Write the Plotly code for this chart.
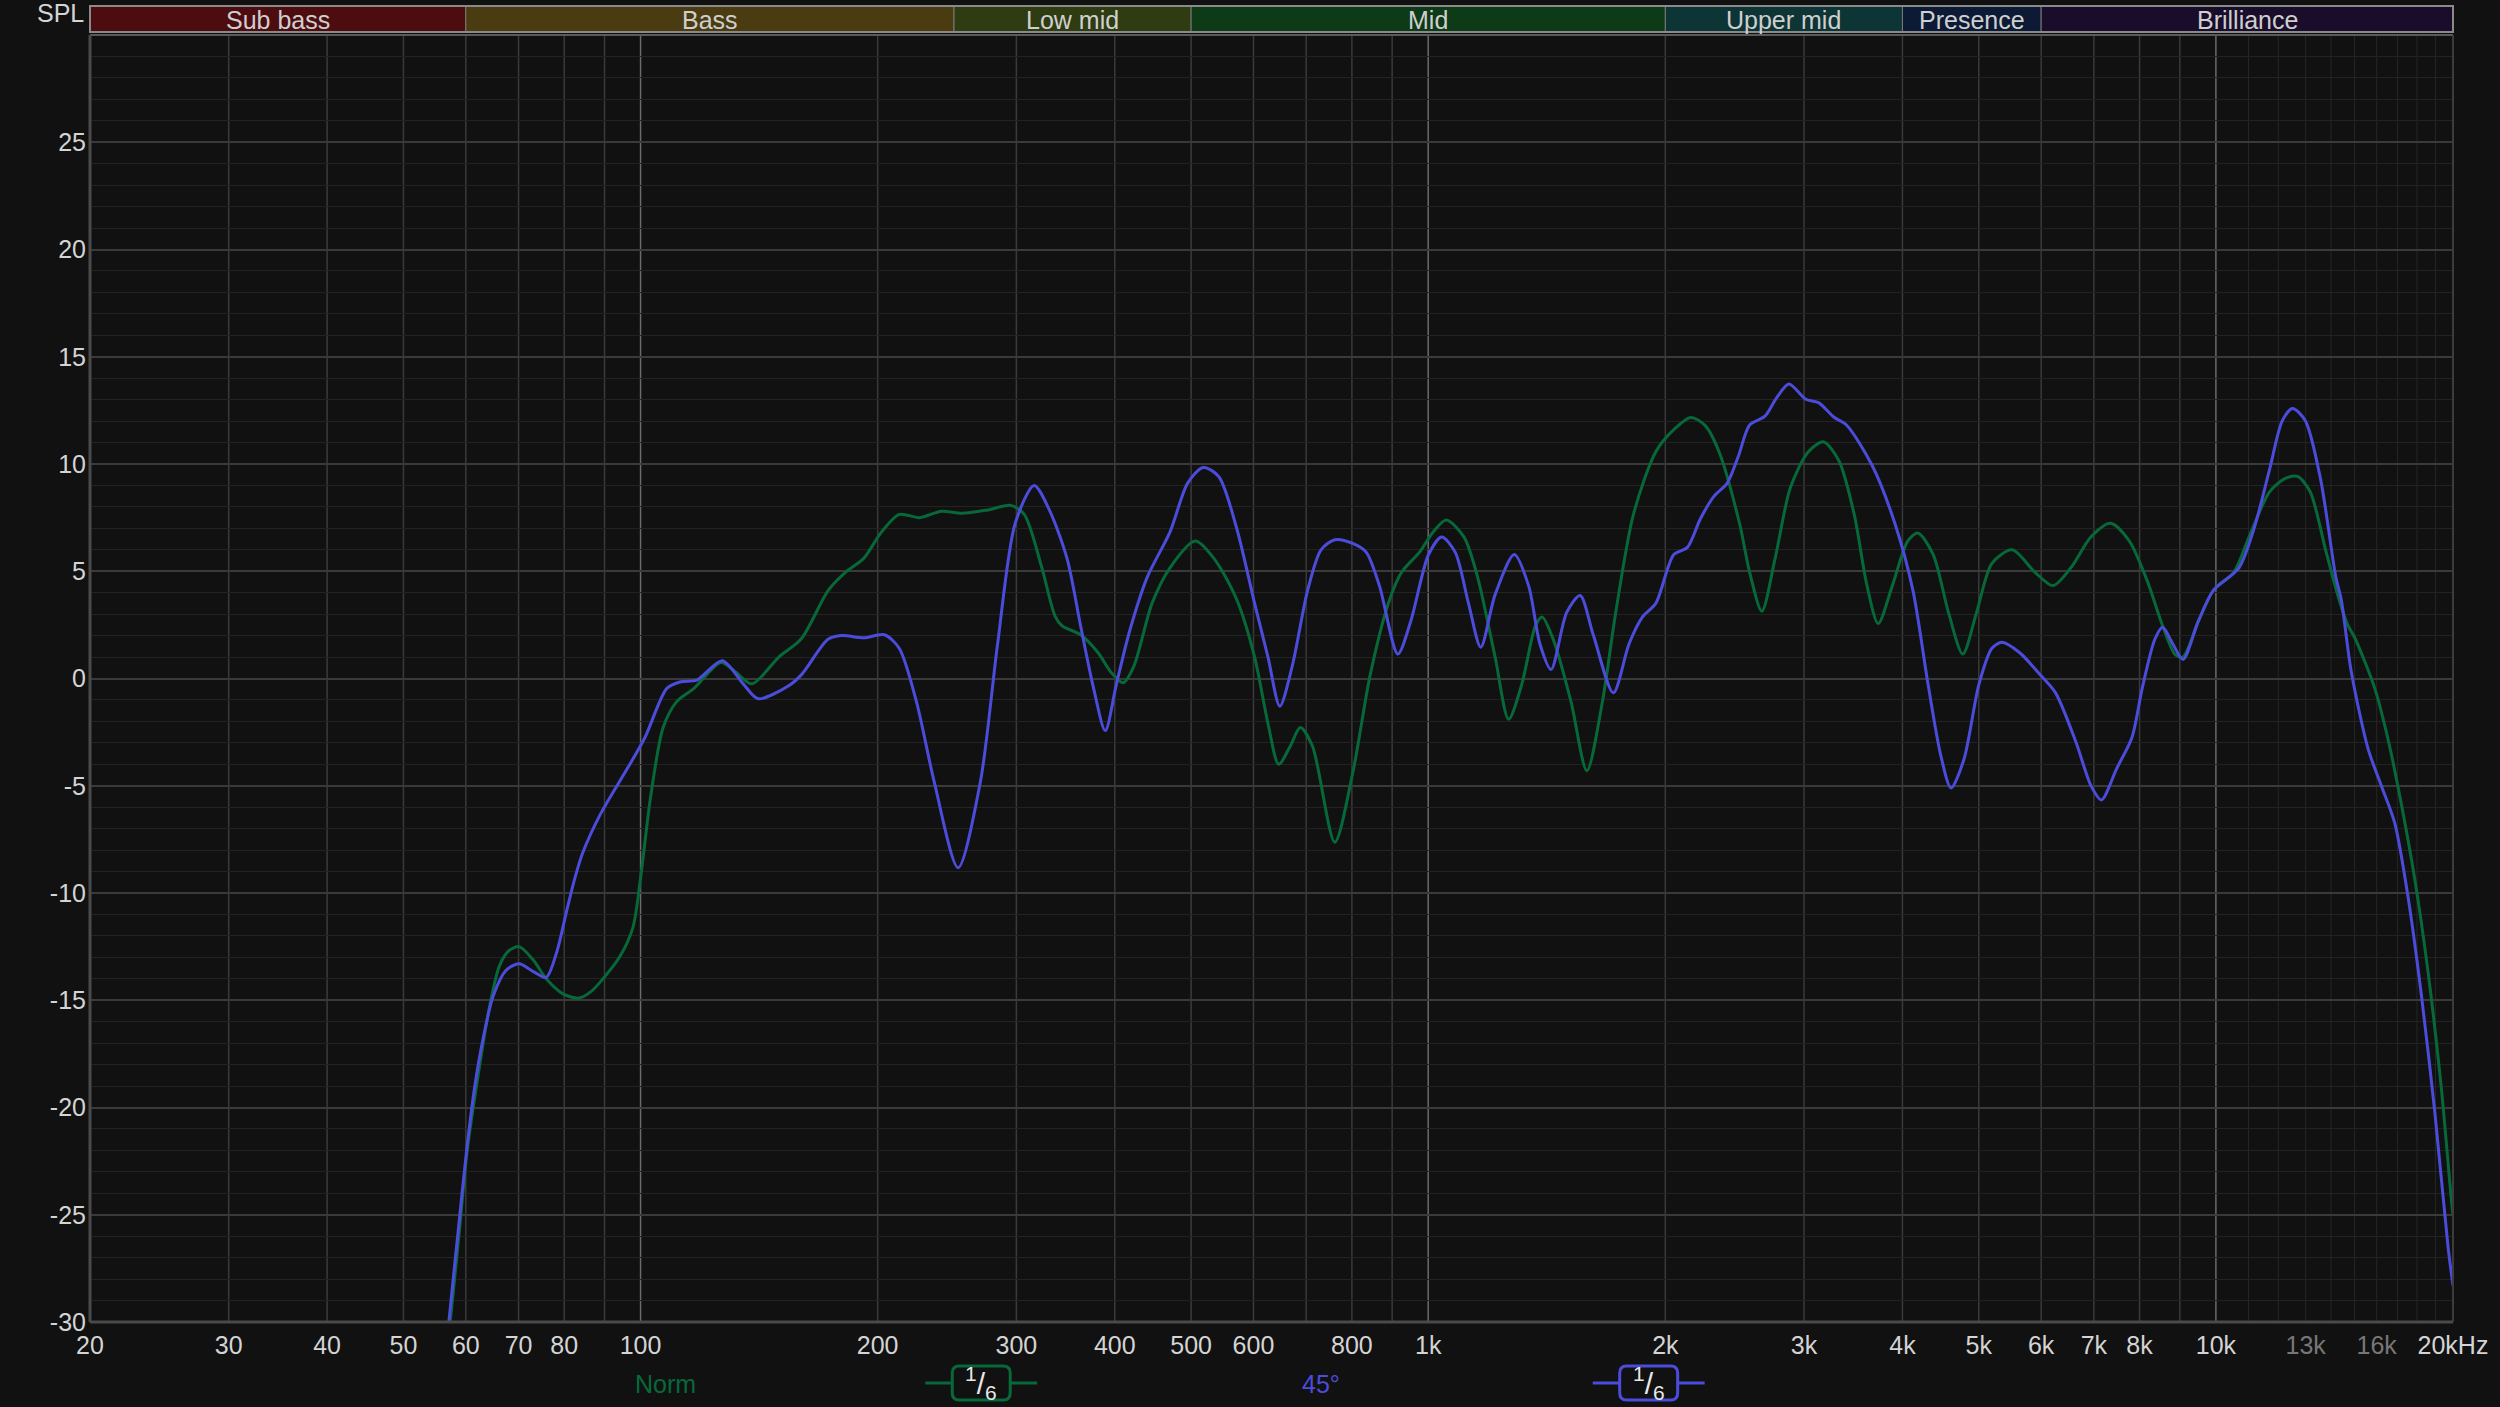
import numpy as np
import plotly.graph_objects as go

norm_freq = [56.8, 57.3, 58.9, 60.2, 61.9, 64.3, 66.2, 68.0, 70.1, 73.0, 75.9, 79.7, 83.5, 86.5, 89.6,
             94.0, 97.8, 100.0, 103, 106.8, 111, 117, 126.5, 132, 138.5, 149.8, 160, 173, 182, 192,
             202, 213, 226, 241, 256, 276, 295, 307, 323, 336, 343, 362, 381, 396, 410, 423, 446,
             470, 506, 535, 571, 602, 626, 646, 668, 688, 713, 761, 802, 844, 890, 925, 975, 1014,
             1054, 1110, 1155, 1216, 1265, 1315, 1368, 1395, 1441, 1518, 1590, 1664, 1730, 1822,
             1945, 2050, 2154, 2246, 2340, 2484, 2559, 2652, 2756, 2883, 3038, 3177, 3322, 3474,
             3606, 3726, 3884, 4062, 4184, 4376, 4576, 4772, 4968, 5196, 5512, 5894, 6211, 6543,
             6947, 7350, 7766, 8184, 8559, 8883, 9084, 9498, 9932, 10540, 11022, 11698, 12232,
             12696, 13176, 13780, 14340, 14700, 15008, 15911, 16544, 17202, 17884, 18594, 19330,
             19904, 20000]
norm_db = [-31.0, -30.0, -25.7, -22.1, -19.0, -15.3, -13.4, -12.7, -12.5, -13.1, -14.0, -14.7, -14.9,
           -14.6, -14.0, -13.0, -11.6, -9.3, -5.5, -2.3, -1.1, -0.45, 0.75, 0.3, -0.25, 1.0, 1.85, 4.1,
           4.95, 5.6, 6.8, 7.65, 7.5, 7.8, 7.7, 7.86, 8.07, 7.65, 5.2, 2.9, 2.45, 2.04, 1.2, 0.27,
           -0.2, 0.58, 3.5, 5.16, 6.41, 5.58, 3.7, 1.0, -2.1, -4.0, -3.16, -2.29, -3.16, -7.63, -4.4,
           0.17, 3.5, 4.95, 5.89, 6.82, 7.39, 6.6, 4.74, 1.0, -1.9, -0.25, 2.45, 2.87, 1.83, -1.08,
           -4.3, -1.08, 3.08, 7.65, 10.57, 11.6, 12.17, 11.8, 10.57, 7.24, 4.95, 3.14, 5.58, 8.9,
           10.57, 11.03, 10.15, 7.65, 4.33, 2.56, 4.33, 6.41, 6.78, 5.78, 3.08, 1.14, 3.08, 5.37,
           6.0, 4.95, 4.33, 5.16, 6.62, 7.24, 6.41, 4.54, 2.45, 1.1, 1.0, 2.66, 4.12, 4.95, 6.62,
           8.7, 9.32, 9.42, 8.7, 6.0, 3.66, 2.5, 1.9, -0.46, -2.85, -5.88, -9.35, -13.69, -19.1,
           -24.3, -25.0]

deg45_freq = [56.8, 57.1, 58.7, 60.1, 61.6, 63.1, 65.0, 67.5, 70.1, 73.0, 75.9, 78.2, 80.5, 82.4,
              84.4, 89, 96.2, 101.3, 108, 112.5, 117.8, 127, 135, 141, 154, 160, 173, 180, 192,
              204, 213, 224, 236, 253, 270, 284, 299, 316, 330, 348, 362, 376, 389, 402, 418, 440,
              470, 495, 518, 542, 571, 602, 626, 648, 672, 703, 731, 761, 802, 834, 867, 915, 950,
              1001, 1040, 1082, 1125, 1166, 1216, 1286, 1341, 1386, 1432, 1499, 1559, 1620, 1718,
              1799, 1871, 1945, 2050, 2132, 2216, 2305, 2397, 2476, 2559, 2676, 2766, 2870, 3016,
              3130, 3272, 3396, 3660, 3912, 4124, 4310, 4474, 4610, 4786, 5004, 5196, 5352, 5636,
              5984, 6258, 6640, 6947, 7156, 7482, 7824, 8062, 8366, 8559, 8814, 9084, 9498, 9932,
              10698, 11188, 11698, 12144, 12512, 12988, 13576, 14198, 14430, 14846, 15604, 16224,
              16872, 17540, 18240, 18962, 19712, 20000]
deg45_db = [-31.0, -30.0, -25.7, -22.1, -19.0, -16.8, -14.8, -13.6, -13.3, -13.65, -13.93, -12.8,
            -10.9, -9.4, -8.15, -6.3, -4.2, -2.75, -0.46, -0.15, -0.08, 0.83, -0.25, -0.94, -0.35,
            0.17, 1.83, 2.0, 1.9, 2.04, 1.41, -1.08, -4.83, -8.82, -4.83, 1.62, 7.24, 9.0, 7.9,
            5.58, 2.45, -0.46, -2.43, -0.25, 2.25, 4.74, 6.82, 9.11, 9.84, 9.42, 7.03, 3.5, 1.0,
            -1.29, 0.58, 4.12, 6.0, 6.47, 6.3, 5.89, 4.33, 1.14, 2.66, 5.78, 6.6, 5.89, 3.5, 1.46,
            3.91, 5.78, 4.33, 1.62, 0.42, 3.08, 3.87, 2.04, -0.67, 1.62, 2.87, 3.5, 5.78, 6.1, 7.45,
            8.49, 9.11, 10.36, 11.82, 12.23, 13.06, 13.73, 13.02, 12.86, 12.19, 11.82, 9.94, 7.24,
            4.12, -0.25, -3.58, -5.1, -3.79, -0.25, 1.41, 1.69, 1.2, 0.17, -0.67, -2.95, -5.03,
            -5.66, -4.2, -2.75, -0.46, 1.83, 2.39, 1.62, 0.89, 2.66, 4.12, 5.16, 7.03, 9.74, 12.02,
            12.59, 12.02, 9.32, 4.74, 3.66, 0.37, -3.28, -5.01, -6.75, -10.2, -14.8, -20.2, -26.5,
            -28.3]

# Bandas de frecuencia
bandas = ["Sub bass", "Bass", "Low mid", "Mid", "Upper mid", "Presence", "Brilliance"]
bandas_limites = [20, 60, 250, 500, 2000, 4000, 6000, 20000]
bandas_colores = ["#4d0d10", "#4a3b10", "#2f3b10", "#0d3a17", "#0d3535", "#0c1a35", "#1a0d2b"]

# Etiquetas de ejes
x_ticks = [20, 30, 40, 50, 60, 70, 80, 100, 200, 300, 400, 500, 600, 800, 1000, 2000, 3000, 4000,
           5000, 6000, 7000, 8000, 10000, 13000, 16000, 20000]
x_labels = ["20", "30", "40", "50", "60", "70", "80", "100", "200", "300", "400", "500", "600",
            "800", "1k", "2k", "3k", "4k", "5k", "6k", "7k", "8k", "10k",
            "<span style='color:#777777'>13k</span>", "<span style='color:#777777'>16k</span>",
            "20kHz"]
y_ticks = [-30, -25, -20, -15, -10, -5, 0, 5, 10, 15, 20, 25]
y_labels = ["-30", "-25", "-20", "-15", "-10", "-5", "0", "5", "10", "15", "20", "25"]

grid_mid = [30, 40, 50, 60, 70, 80, 90, 200, 300, 400, 500, 600, 700, 800, 900,
            2000, 3000, 4000, 5000, 6000, 7000, 8000, 9000]
grid_major = [100, 1000, 10000]
grid_fine = [11000, 12000, 13000, 14000, 15000, 16000, 17000, 18000, 19000]

VERDE = "#07693a"
AZUL = "#4c4cdc"
TEXTO = "#d4d4d4"
FUENTE = "Liberation Sans, Arial, sans-serif"

# Geometría de la página (px)
W, H = 2500, 1407
L, R, T, B = 90, 2455, 35, 1322


def px(x):
    return (x - L) / (R - L)


def py(y):
    return (B - y) / (B - T)


def caja_redondeada(x0, y0, x1, y1, r):
    pts = (f"M {px(x0 + r)},{py(y0)} L {px(x1 - r)},{py(y0)} Q {px(x1)},{py(y0)} {px(x1)},{py(y0 + r)} "
           f"L {px(x1)},{py(y1 - r)} Q {px(x1)},{py(y1)} {px(x1 - r)},{py(y1)} "
           f"L {px(x0 + r)},{py(y1)} Q {px(x0)},{py(y1)} {px(x0)},{py(y1 - r)} "
           f"L {px(x0)},{py(y0 + r)} Q {px(x0)},{py(y0)} {px(x0 + r)},{py(y0)} Z")
    return pts


def texto(x, y, t, color, size=25):
    return dict(x=px(x), y=py(y), xref="paper", yref="paper", text=t, showarrow=False,
                xanchor="center", yanchor="middle", font=dict(family=FUENTE, size=size, color=color))


fig = go.Figure()

fig.add_trace(go.Scatter(x=norm_freq, y=norm_db, mode="lines", name="Norm",
                         line=dict(color=VERDE, width=3, shape="spline", smoothing=0.8)))
fig.add_trace(go.Scatter(x=deg45_freq, y=deg45_db, mode="lines", name="45°",
                         line=dict(color=AZUL, width=3, shape="spline", smoothing=0.8)))

shapes = []
# rejilla vertical
for f in grid_fine:
    shapes.append(dict(type="line", xref="x", yref="paper", x0=f, x1=f, y0=0, y1=1,
                       line=dict(color="#262626", width=1), layer="below"))
for f in grid_mid:
    shapes.append(dict(type="line", xref="x", yref="paper", x0=f, x1=f, y0=0, y1=1,
                       line=dict(color="#3a3a3a", width=1.5), layer="below"))
for f in grid_major:
    shapes.append(dict(type="line", xref="x", yref="paper", x0=f, x1=f, y0=0, y1=1,
                       line=dict(color="#6a6a6a", width=1.5), layer="below"))

# barra de bandas arriba
for i, nombre in enumerate(bandas):
    shapes.append(dict(type="rect", xref="x", yref="paper",
                       x0=bandas_limites[i], x1=bandas_limites[i + 1], y0=py(32), y1=py(6),
                       fillcolor=bandas_colores[i], line=dict(color="#7a7a7a", width=1)))
shapes.append(dict(type="rect", xref="paper", yref="paper", x0=0, x1=1, y0=py(32), y1=py(6),
                   line=dict(color="#8a8a8a", width=2)))

# marco
shapes += [
    dict(type="line", xref="paper", yref="paper", x0=0, x1=1, y0=1, y1=1, line=dict(color="#5a5a5a", width=2)),
    dict(type="line", xref="paper", yref="paper", x0=0, x1=0, y0=0, y1=1, line=dict(color="#4a4a4a", width=3)),
    dict(type="line", xref="paper", yref="paper", x0=0, x1=1, y0=0, y1=0, line=dict(color="#4a4a4a", width=3)),
    dict(type="line", xref="paper", yref="paper", x0=1, x1=1, y0=0, y1=1, line=dict(color="#3c3c3c", width=2)),
]

# leyenda inferior (símbolos de suavizado 1/6)
for color, cx in [(VERDE, 982), (AZUL, 1650)]:
    shapes.append(dict(type="line", xref="paper", yref="paper", x0=px(cx - 56), x1=px(cx + 56),
                       y0=py(1383), y1=py(1383), line=dict(color=color, width=3)))
    shapes.append(dict(type="path", xref="paper", yref="paper",
                       path=caja_redondeada(cx - 29, 1366, cx + 29, 1400, 7),
                       fillcolor="#111111", line=dict(color=color, width=3)))

annotations = []
for i, nombre in enumerate(bandas):
    centro = np.sqrt(bandas_limites[i] * bandas_limites[i + 1])
    annotations.append(dict(x=np.log10(centro), y=py(20), xref="x", yref="paper", text=nombre,
                            showarrow=False, xanchor="center", yanchor="middle",
                            font=dict(family=FUENTE, size=25, color="#cfcfcf")))

annotations += [
    texto(60, 13, "SPL", TEXTO),
    texto(666, 1384, "Norm", VERDE),
    texto(1322, 1384, "45°", AZUL),
    texto(982, 1383, "<sup>1</sup>/<sub>6</sub>", "#e8e8e8", 30),
    texto(1650, 1383, "<sup>1</sup>/<sub>6</sub>", "#e8e8e8", 30),
]

fig.update_layout(
    width=W, height=H,
    margin=dict(l=L, r=W - R, t=T, b=H - B, pad=0),
    paper_bgcolor="#111111",
    plot_bgcolor="#111111",
    showlegend=False,
    shapes=shapes,
    annotations=annotations,
    xaxis=dict(
        type="log",
        range=[np.log10(20), np.log10(20000)],
        tickvals=x_ticks, ticktext=x_labels,
        showgrid=False, zeroline=False, showline=False, ticks="",
        ticklabelstandoff=6,
        tickfont=dict(family=FUENTE, size=25, color=TEXTO),
    ),
    yaxis=dict(
        range=[-30, 30],
        tickvals=y_ticks, ticktext=y_labels,
        showgrid=True, gridcolor="#3a3a3a", gridwidth=1.5,
        zeroline=False, showline=False, ticks="",
        ticklabelstandoff=3,
        tickfont=dict(family=FUENTE, size=25, color=TEXTO),
        minor=dict(tickmode="linear", tick0=0, dtick=1, showgrid=True, gridcolor="#232323", gridwidth=1),
    ),
)

fig.write_html("out.html", config={"displayModeBar": False},
               post_script="document.body.style.margin='0';")
